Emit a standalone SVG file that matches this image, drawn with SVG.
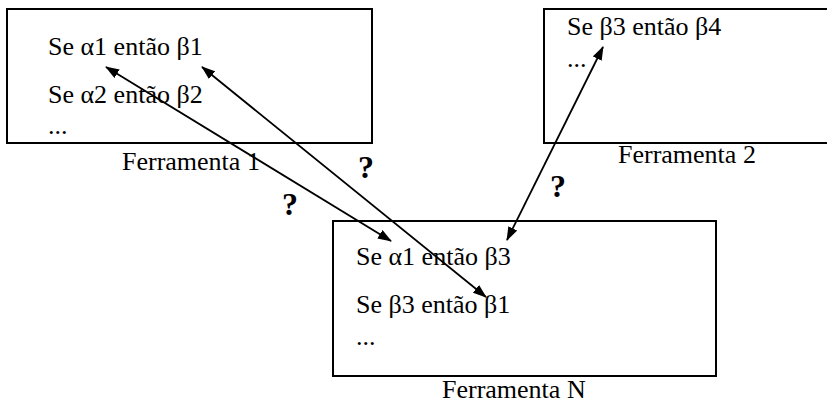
<svg xmlns="http://www.w3.org/2000/svg" width="827" height="405" viewBox="0 0 827 405">
<style>
.box{fill:none;stroke:#000;stroke-width:2}
.t{font-family:"Liberation Serif","Times New Roman",serif;font-size:26px;fill:#000}
.q{font-family:"Liberation Serif","Times New Roman",serif;font-size:32px;font-weight:bold;fill:#000}
.c{fill:none;stroke:#000;stroke-width:1.8}
</style>
<defs>
<marker id="ah" viewBox="0 0 14 10" refX="13" refY="5" markerWidth="14" markerHeight="10" markerUnits="userSpaceOnUse" orient="auto-start-reverse">
<path d="M0,0 L14,5 L0,10 Z" fill="#000"/>
</marker>
</defs>
<rect width="827" height="405" fill="#fff"/>
<g id="ferramenta1">
<rect class="box" x="7" y="9" width="365" height="134"/>
<text class="t" x="48" y="55">Se α1 então β1</text>
<text class="t" x="48" y="103">Se α2 então β2</text>
<text class="t" x="48" y="134">...</text>
<text class="t" x="122" y="170">Ferramenta 1</text>
</g>
<g id="ferramenta2">
<rect class="box" x="544" y="9" width="290" height="134"/>
<text class="t" x="567" y="35">Se β3 então β4</text>
<text class="t" x="567" y="67">...</text>
<text class="t" x="618" y="163">Ferramenta 2</text>
</g>
<g id="ferramentaN">
<rect class="box" x="333" y="221" width="383" height="155"/>
<text class="t" x="356" y="265">Se α1 então β3</text>
<text class="t" x="356" y="313">Se β3 então β1</text>
<text class="t" x="356" y="345">...</text>
<text class="t" x="442" y="398">Ferramenta N</text>
</g>
<g id="connectors">
<line class="c" x1="106" y1="67" x2="391" y2="241" marker-start="url(#ah)" marker-end="url(#ah)"/>
<line class="c" x1="202" y1="67" x2="486" y2="297" marker-start="url(#ah)" marker-end="url(#ah)"/>
<line class="c" x1="603" y1="47" x2="507" y2="240" marker-start="url(#ah)" marker-end="url(#ah)"/>
<text class="q" x="358" y="178">?</text>
<text class="q" x="282" y="215">?</text>
<text class="q" x="550" y="197">?</text>
</g>
</svg>
